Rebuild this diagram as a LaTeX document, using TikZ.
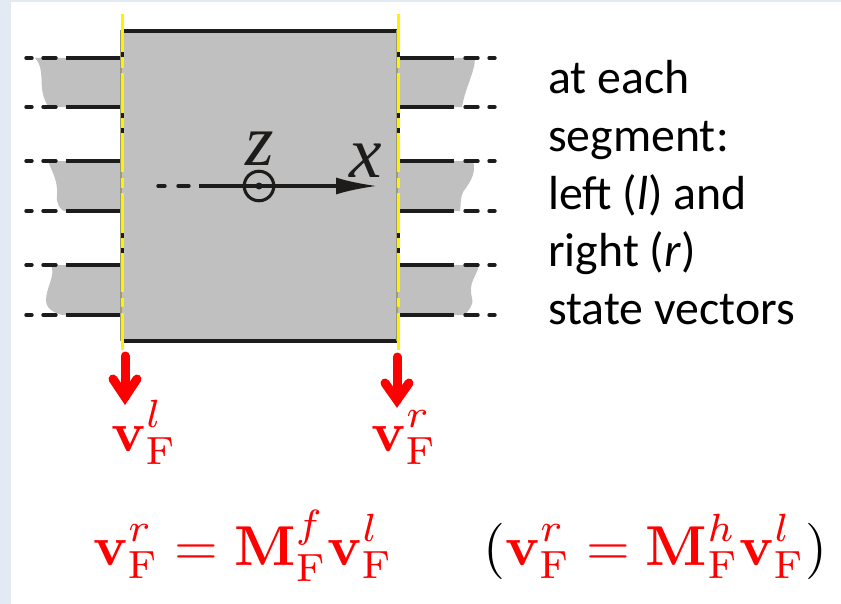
\documentclass[tikz,border=0pt]{standalone}
\usepackage{amsmath,amssymb}
\usepackage[no-math]{fontspec}
\usepackage{xcolor}
\newfontfamily\slidefont{Carlito}
\newfontfamily\axisfont{Liberation Serif}
\definecolor{slideblue}{HTML}{E4EAF4}
\definecolor{blockgray}{HTML}{C0C0C0}
\definecolor{inkblack}{HTML}{1E1C1A}
\definecolor{cutolive}{HTML}{9C9C74}
\usetikzlibrary{arrows.meta,positioning,calc}
\tikzset{
  stub/.style={inkblack,line width=2.4pt},
  stubdash/.style={inkblack,line width=2.4pt,line cap=round},
  edgeln/.style={inkblack,line width=2.6pt},
  cutln/.style={yellow,line width=1.9pt},
  redarrow/.style={red,line width=6.4pt,line cap=round},
  eqn/.style={red,scale=4,inner sep=0pt,anchor=base west},
  axlab/.style={inkblack,font=\axisfont\itshape\fontsize{52}{52}\selectfont,inner sep=0pt,anchor=base},
  sidetext/.style={font=\slidefont\fontsize{34}{41}\selectfont,align=left,anchor=north west,inner sep=0pt},
}
\newcommand{\vF}[1]{\mathbf{v}_{\mathrm{F}}^{#1}}
\newcommand{\MF}[1]{\mathbf{M}_{\mathrm{F}}^{#1}}
\begin{document}
\begin{tikzpicture}[x=0.025cm,y=-0.025cm]
        \useasboundingbox (0,0) rectangle (841,604);
        % slide background
        \fill[slideblue] (0,0) rectangle (841,604);
        \fill[white] (11,2) rectangle (841,604);
        % grey layers, left
        \fill[blockgray] (35,58) .. controls (43,66) and (41,80) .. (42,88) .. controls (43,98) and (46,102) .. (48,107) -- (122,107) -- (122,58) -- cycle;
        \fill[blockgray] (48,161) .. controls (52,172) and (58,180) .. (57,195) .. controls (56,204) and (60,209) .. (64,211) -- (122,211) -- (122,161) -- cycle;
        \fill[blockgray] (51,265) .. controls (56,275) and (46,288) .. (46,300) .. controls (46,310) and (56,313) .. (62,315) -- (122,315) -- (122,265) -- cycle;
        % grey layers, right
        \fill[blockgray] (475,58) .. controls (475,72) and (465,88) .. (462,107) -- (398,107) -- (398,58) -- cycle;
        \fill[blockgray] (473,161) .. controls (476,172) and (472,180) .. (463,192) .. controls (460,198) and (461,205) .. (460,211) -- (398,211) -- (398,161) -- cycle;
        \fill[blockgray] (479,265) .. controls (476,278) and (468,282) .. (472,298) .. controls (474,306) and (468,310) .. (465,315) -- (398,315) -- (398,265) -- cycle;
        % main block
        \fill[blockgray] (121,30) rectangle (399,341);
        \draw[edgeln] (123,31)--(398,31);
        \draw[edgeln] (123,341)--(397,341);
        % stubs and their dashes
        \foreach \yy in {58,107,161,211,265,315}{
          \draw[stub] (122,\yy)--(66,\yy);
          \draw[stubdash] (43,\yy)--(56,\yy);
          \draw[stubdash] (26,\yy)--(32,\yy);
          \draw[stub] (398,\yy)--(454,\yy);
          \draw[stubdash] (465,\yy)--(478,\yy);
          \draw[stubdash] (489,\yy)--(495,\yy);
        }
        % block sides, ticks, then the yellow cuts
        \foreach \xx in {122,398}{
          \draw[cutolive,line width=1.2pt] (\xx-1,30)--(\xx-1,341);
          \foreach \ya/\yb in {14/68,73/172,178/188,193/292,298/307,313/350}
            \draw[cutln] (\xx+0.5,\ya)--(\xx+0.5,\yb);
          \foreach \yt in {55,115,130,235,250}
            \fill[inkblack] (\xx-1.5,\yt-2.5) rectangle (\xx+2,\yt+2.5);
        }
        % axes
        \coordinate (axstart) at (199,186);
        \coordinate (axend) at (377,186);
        \draw[stubdash] (158,186)--(165,186);
        \draw[stubdash] (178,186)--(189,186);
        \draw[inkblack,line width=2.2pt,-{Latex[length=29pt,width=12pt]}] (axstart)--(axend);
        \node[circle,draw=inkblack,line width=2.2pt,minimum size=21pt,inner sep=0pt] (zcirc) at (259,186){};
        \fill[inkblack] (zcirc.center) circle (3.5);
        \node[axlab] (zlab) at (260,165){z};
        \node[axlab] (xlab) at (366,177){x};
        % red arrows
        \coordinate (lefta) at (125,356);
        \coordinate (leftb) at (125,397);
        \coordinate (righta) at (397,357);
        \coordinate (rightb) at (397,400);
        \draw[redarrow] (lefta)--(leftb);
        \draw[redarrow] (113,379)--(leftb)--(137,379);
        \draw[redarrow] (righta)--(rightb);
        \draw[redarrow] (385,383)--(rightb)--(409,383);
        % labels
        \node[eqn] (vl) at (110,451){$\displaystyle\vF{l}$};
        \node[eqn] (vr) at (370,451){$\displaystyle\vF{r}$};
        \node[eqn] (eqf) at (92,565){$\displaystyle\vF{r}=\MF{f}\vF{l}$};
        \node[eqn,black] (eqh) at (482,565){$\displaystyle({\color{red}\vF{r}=\MF{h}\vF{l}})$};
        % side note
        \node[sidetext] (note) at (548,60.5){at each\\segment:\\left (\textit{l}) and\\right (\textit{r})\\state vectors};
      \end{tikzpicture}
\end{document}
